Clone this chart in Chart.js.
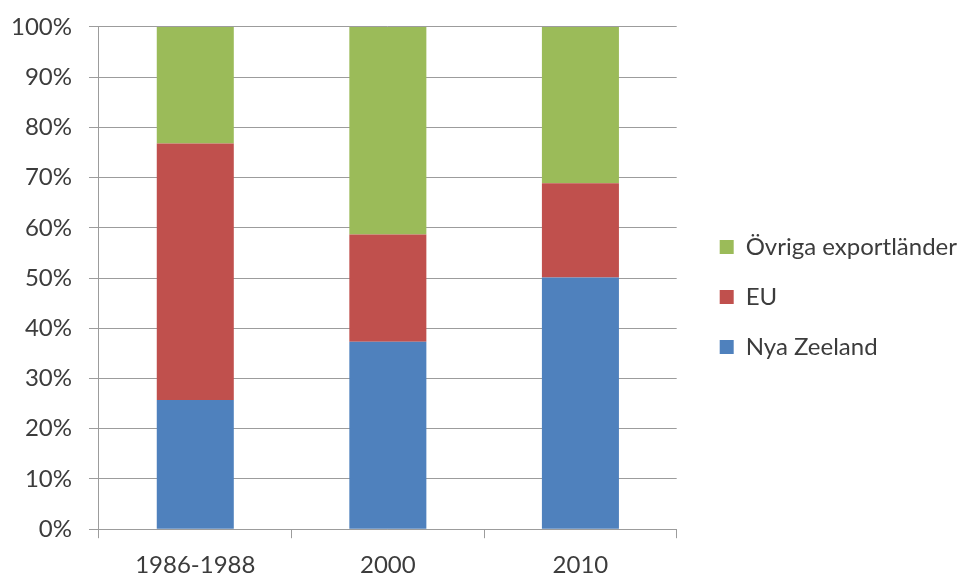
<!DOCTYPE html>
<html>
<head>
<meta charset="utf-8">
<script src="https://cdn.jsdelivr.net/npm/chart.js@4"></script>
<style>
    html, body { margin: 0; padding: 0; background: #ffffff; }
    #wrap { width: 973px; height: 578px; }
</style>
</head>
<body>
<div id="wrap"><canvas id="chart"></canvas></div>
<script>
const categories = ["1986-1988", "2000", "2010"];
const nyaZeeland = [25.7, 37.3, 50.1];
const eu = [51.1, 21.4, 18.8];
const ovriga = [23.2, 41.3, 31.1];
const yTicks = [0, 10, 20, 30, 40, 50, 60, 70, 80, 90, 100];

const textColor = "#3c3c3c";
const gridColor = "#9c9c9c";
const font = { family: "Lato", size: 24 };

const chart = new Chart(document.getElementById("chart"), {
    type: "bar",
    data: {
        labels: categories,
        datasets: [
            { label: "Nya Zeeland", data: nyaZeeland, backgroundColor: "#4f81bd" },
            { label: "EU", data: eu, backgroundColor: "#c0504d" },
            { label: "Övriga exportländer", data: ovriga, backgroundColor: "#9bbb59" },
        ],
    },
    options: {
        responsive: true,
        maintainAspectRatio: false,
        animation: false,
        datasets: {
            bar: { barPercentage: 0.4, categoryPercentage: 1.0 },
        },
        // negative values pull the axes to where the original has them
        layout: {
            padding: { top: 1, left: -6, right: 6, bottom: -15 },
        },
        scales: {
            x: {
                stacked: true,
                grid: {
                    offset: true,
                    drawOnChartArea: false,
                    color: gridColor,
                    tickLength: 9,
                },
                border: { color: gridColor },
                ticks: {
                    color: textColor,
                    font: { family: "Lato", size: 24, lineHeight: 1.2 },
                    padding: 13,
                },
            },
            y: {
                stacked: true,
                min: 0,
                max: 100,
                afterBuildTicks: (scale) => {
                    scale.ticks = yTicks.map((v) => ({ value: v }));
                },
                grid: { color: gridColor, tickLength: 10 },
                border: { color: gridColor },
                ticks: {
                    color: textColor,
                    font: { family: "Lato", size: 24, lineHeight: 0.83 },
                    padding: 17,
                    autoSkip: false,
                    callback: (v) => v + "%",
                },
            },
            // empty axis, only keeps a gap between plot and legend
            gap: {
                position: "right",
                grid: { display: false },
                border: { display: false },
                ticks: { display: false },
                afterFit: (scale) => {
                    scale.width = 17;
                },
            },
        },
        plugins: {
            legend: {
                position: "right",
                reverse: true,
                maxWidth: 400,
                labels: {
                    color: textColor,
                    font: font,
                    boxWidth: 14,
                    boxHeight: 14,
                    padding: 26,
                },
            },
            tooltip: { enabled: false },
        },
    },
});
</script>
</body>
</html>
